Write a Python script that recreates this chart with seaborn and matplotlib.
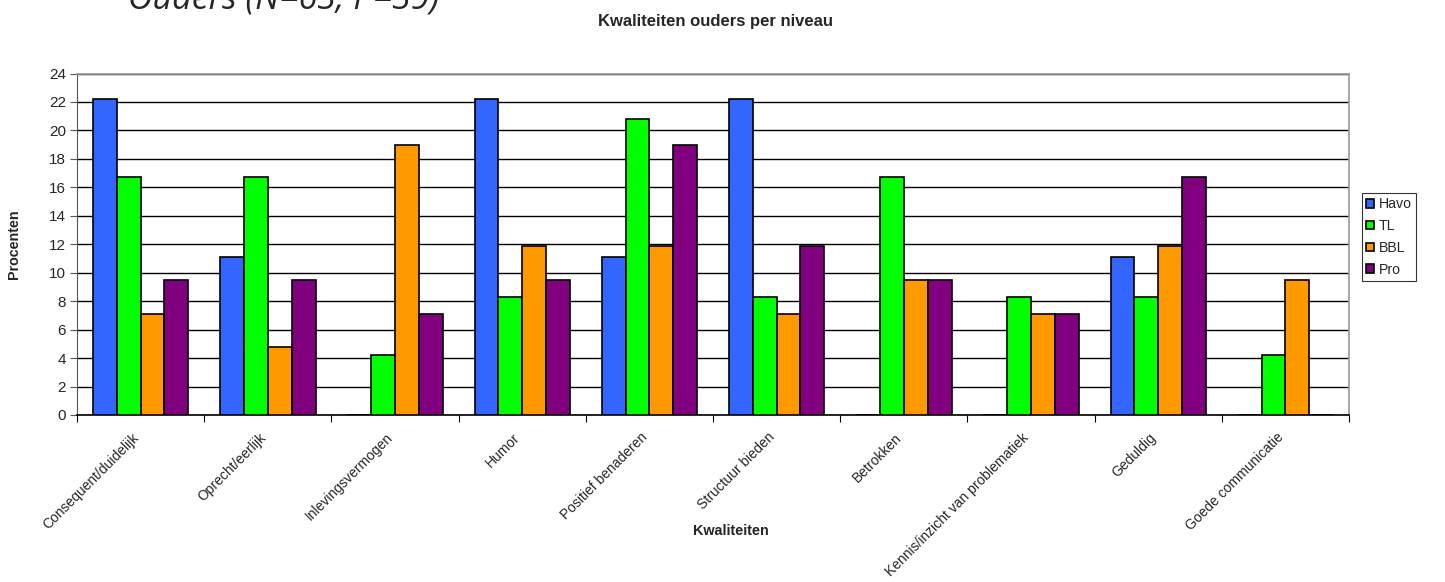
import matplotlib
matplotlib.use("Agg")
import matplotlib.pyplot as plt
import matplotlib.transforms as mtransforms
import seaborn as sns
import pandas as pd
from matplotlib.ticker import MultipleLocator, FixedLocator

kwaliteiten = [
    "Consequent/duidelijk", "Oprecht/eerlijk", "Inlevingsvermogen", "Humor",
    "Positief benaderen", "Structuur bieden", "Betrokken",
    "Kennis/inzicht van problematiek", "Geduldig", "Goede communicatie",
]
niveaus = ["Havo", "TL", "BBL", "Pro"]
havo = [22.2, 11.1, 0.0, 22.2, 11.1, 22.2, 0.0, 0.0, 11.1, 0.0]
tl = [16.7, 16.7, 4.2, 8.3, 20.8, 8.3, 16.7, 8.3, 8.3, 4.2]
bbl = [7.1, 4.8, 19.0, 11.9, 11.9, 7.1, 9.5, 7.1, 11.9, 9.5]
pro = [9.5, 9.5, 7.1, 9.5, 19.0, 11.9, 9.5, 7.1, 16.7, 0.0]
kleuren = ["#3366FF", "#00FF00", "#FF9900", "#800080"]

rows = []
for niveau, waarden in zip(niveaus, [havo, tl, bbl, pro]):
    for k, v in zip(kwaliteiten, waarden):
        rows.append({"Kwaliteit": k, "Niveau": niveau, "Procent": v})
df = pd.DataFrame(rows)

sns.set_style("white")
plt.rcParams["font.family"] = ["Liberation Sans", "DejaVu Sans"]

W, H = 1445, 582
fig = plt.figure(figsize=(W / 100, H / 100), dpi=100)
left, right, top, bottom = 77, 1349, 73.5, 415
ax = fig.add_axes([left / W, 1 - bottom / H, (right - left) / W, (bottom - top) / H])

sns.barplot(data=df, x="Kwaliteit", y="Procent", hue="Niveau", order=kwaliteiten,
            hue_order=niveaus, palette=kleuren, saturation=1, width=0.75, gap=0,
            edgecolor="black", linewidth=1.2, ax=ax, legend=True, zorder=3)

ax.set_ylim(0, 24)
ax.set_xlim(-0.5, len(kwaliteiten) - 0.5)
ax.yaxis.set_major_locator(MultipleLocator(2))
ax.yaxis.grid(True, color="black", linewidth=1.0, zorder=0)
ax.set_axisbelow(True)

for side in ["top", "right"]:
    ax.spines[side].set_color("#999999")
    ax.spines[side].set_linewidth(1.2)
ax.spines["left"].set_color("#555555")
ax.spines["bottom"].set_color("black")
ax.spines["bottom"].set_linewidth(1.2)

ax.tick_params(axis="y", which="major", left=True, length=5, width=0.8,
               color="#555555", labelsize=11, pad=3)
ax.tick_params(axis="x", which="major", length=0, pad=11)
ax.xaxis.set_minor_locator(FixedLocator([i - 0.5 for i in range(len(kwaliteiten) + 1)]))
ax.tick_params(axis="x", which="minor", bottom=True, length=5, width=0.8, color="black")
ax.set_xticks(range(len(kwaliteiten)))
ax.set_xticklabels(kwaliteiten, rotation=45, ha="right", va="top",
                   rotation_mode="anchor", fontsize=10)
shift = mtransforms.ScaledTranslation(-9 / 100, 0, fig.dpi_scale_trans)
for lbl in ax.get_xticklabels():
    lbl.set_transform(lbl.get_transform() + shift)

ax.set_xlabel("")
ax.set_ylabel("Procenten", fontsize=10.3, fontweight="bold", labelpad=20)
fig.text(716 / W, 1 - 26 / H, "Kwaliteiten ouders per niveau", fontsize=12,
         fontweight="bold", ha="center", va="baseline")
fig.text(731 / W, 1 - 531 / H, "Kwaliteiten", fontsize=10.4, fontweight="bold",
         ha="center", va="center")

ax.get_legend().remove()
handles, labels = ax.get_legend_handles_labels()
leg = fig.legend(handles, labels, loc="upper left",
                 bbox_to_anchor=(1362 / W, 1 - 193 / H), borderaxespad=0,
                 fontsize=10.2, handlelength=0.55, handleheight=0.55, handletextpad=0.33,
                 labelspacing=0.55, borderpad=0.3, fancybox=False, frameon=True)
leg.get_frame().set_edgecolor("black")
leg.get_frame().set_linewidth(0.8)
for patch in leg.get_patches():
    patch.set_linewidth(1.2)

fig.text(128 / W, 1 - 9 / H, "Ouders (N=63; P=39)", fontsize=24.5, style="italic",
         family=["Open Sans", "DejaVu Sans"], ha="left", va="baseline")

fig.savefig("out.png", dpi=100, facecolor="white")
